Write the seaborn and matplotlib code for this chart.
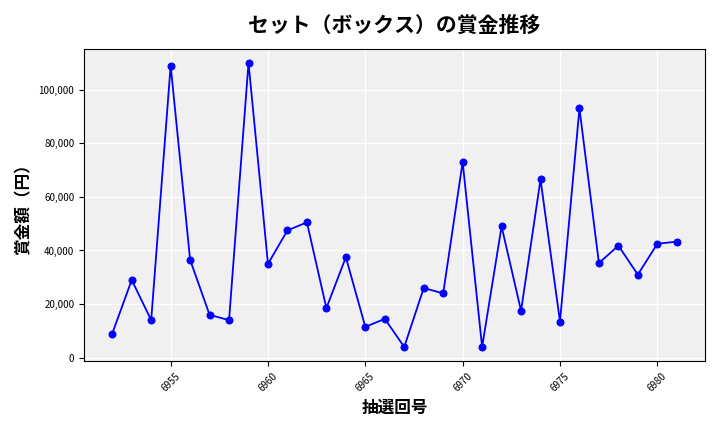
import matplotlib.pyplot as plt
import seaborn as sns
from matplotlib.ticker import FuncFormatter

# 抽選回号と賞金額
draws = list(range(6952, 6982))
prizes = [9000, 29000, 14000, 109000, 36500, 16000, 14000, 110000, 35000, 47500,
          50500, 18500, 37500, 11500, 14500, 4000, 26000, 24000, 73000, 4000,
          49000, 17500, 66500, 13500, 93000, 35300, 41800, 31000, 42500, 43300]

plt.rcParams['font.family'] = ['Noto Sans CJK JP', 'DejaVu Sans']

fig, ax = plt.subplots(figsize=(7.2, 4.32), dpi=100)
ax.set_facecolor('#f0f0f0')
ax.grid(True, color='white', linewidth=1)
ax.set_axisbelow(True)

sns.lineplot(x=draws, y=prizes, ax=ax, color='blue', marker='o',
             markersize=5, markeredgecolor='blue', linewidth=1.3)

ax.set_title('セット（ボックス）の賞金推移', fontsize=15, fontweight='bold', pad=12)
ax.set_xlabel('抽選回号', fontsize=12, fontweight='bold')
ax.set_ylabel('賞金額（円）', fontsize=12, fontweight='bold')
ax.yaxis.set_major_formatter(FuncFormatter(lambda v, p: f'{int(v):,}'))
ax.set_xticks(range(6955, 6985, 5))
ax.tick_params(axis='x', labelrotation=45, labelsize=7)
ax.tick_params(axis='y', labelsize=7)

fig.tight_layout()
fig.savefig('out.png', dpi=100)
